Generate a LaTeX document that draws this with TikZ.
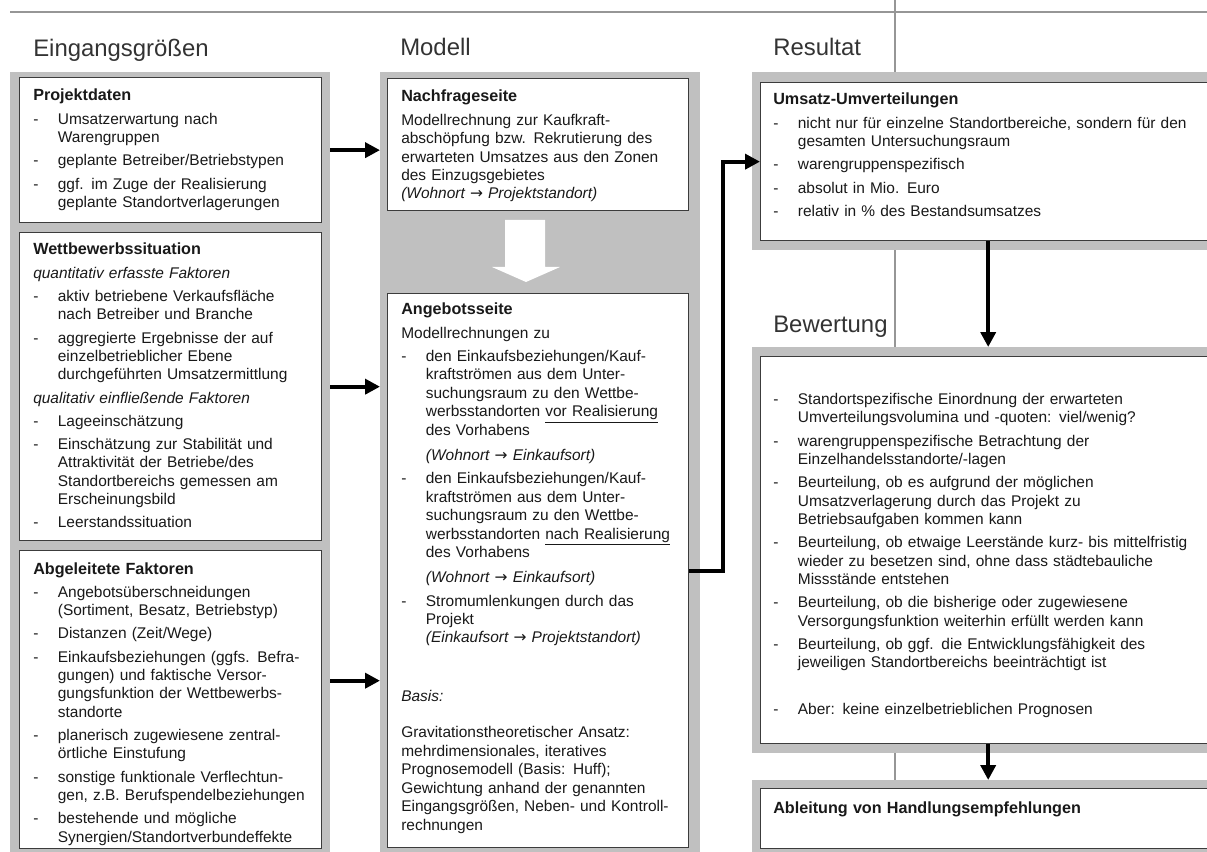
\documentclass[tikz,border=0pt]{standalone}
\usepackage{fontspec}
\setmainfont{Liberation Sans}
\newfontfamily\arrowfont{DejaVu Sans}
\usetikzlibrary{arrows.meta}

\definecolor{panelgray}{RGB}{192,192,192}
\definecolor{cardline}{RGB}{60,60,60}
\definecolor{rulegray}{RGB}{150,150,150}
\definecolor{ink}{RGB}{25,25,25}

% small helpers for the box texts
\newcommand{\cardfont}{\fontsize{11}{13.1}\selectfont\parindent=0pt\rightskip=0pt plus 1fil\relax}
\newcommand{\pf}{{\upshape\arrowfont →}}
\newcommand{\nz}{\hfil\break}
\newcommand{\kopf}[1]{\noindent{\fontsize{11.5}{13.1}\selectfont\bfseries #1}\par}
\newcommand{\pkt}{\par\vspace{3.4pt}\hangindent=17.5pt\hangafter=1\noindent\makebox[17.5pt][l]{-}}
\newcommand{\unter}[1]{\par\vspace{3.4pt}\noindent\textit{#1}}
\newcommand{\absatz}{\par\vspace{3.4pt}\noindent}

\tikzset{
  panel/.style={fill=panelgray, anchor=north west, inner sep=0pt, outer sep=0pt},
  card/.style={draw=cardline, fill=white, line width=0.9pt, anchor=north west, inner sep=0pt},
  cardtext/.style={anchor=north west, inner sep=0pt, text=ink, font=\cardfont},
  colhead/.style={anchor=base west, inner sep=0pt, text=black!80, font=\fontsize{17}{20}\selectfont},
  flow/.style={line width=3pt, -{Triangle[length=10.5pt,width=10.5pt]}},
}

\begin{document}
\begin{tikzpicture}[x=0.025cm, y=-0.025cm]
  \useasboundingbox (0,0) rectangle (1207,852);
  \clip (0,0) rectangle (1207,852);

  % frame lines
  \draw[rulegray, line width=1pt] (895,0) -- (895,852);
  \draw[rulegray, line width=1pt] (10,12) -- (1207,12);

  % column headings
  \node[colhead] (inhead) at (33,57) {Eingangsgrößen};
  \node[colhead] (modhead) at (400,56) {Modell};
  \node[colhead] (reshead) at (773,56) {Resultat};
  \node[fill=white, inner sep=1pt, colhead] (evalhead) at (773,332) {Bewertung};

  % gray panels
  \node[panel, minimum width=8cm, minimum height=19.7cm] (inpanel) at (10,72) {};
  \node[panel, minimum width=8cm, minimum height=19.7cm] (modpanel) at (380,72) {};
  \node[panel, minimum width=11.7cm, minimum height=4.45cm] (respanel) at (752,72) {};
  \node[panel, minimum width=11.7cm, minimum height=10.15cm] (evalpanel) at (752,347) {};
  \node[panel, minimum width=11.7cm, minimum height=2cm] (actpanel) at (752,780) {};

  % white cards
  \node[card, minimum width=7.55cm, minimum height=3.625cm] (proj) at (19,77) {};
  \node[card, minimum width=7.55cm, minimum height=7.7cm] (wett) at (19,232) {};
  \node[card, minimum width=7.55cm, minimum height=7.45cm] (abgl) at (19,550) {};
  \node[card, minimum width=7.525cm, minimum height=3.3cm] (nach) at (387,78) {};
  \node[card, minimum width=7.525cm, minimum height=13.85cm] (angeb) at (387,293) {};
  \node[card, minimum width=11.375cm, minimum height=3.95cm] (umsatz) at (760,82) {};
  \node[card, minimum width=11.375cm, minimum height=9.675cm] (bewert) at (760,356) {};
  \node[card, minimum width=11.375cm, minimum height=1.5cm] (ableit) at (760,788) {};

  % white block arrow inside the model panel
  \fill[white] (505,220) -- (545,220) -- (545,267) -- (560,267) -- (526,282)
    -- (492,267) -- (505,267) -- cycle;

  % texts
  \node[cardtext, text width=7.2cm] (projtxt) at (33,89) {%
    \kopf{Projektdaten}
    \pkt Umsatzerwartung nach\nz Warengruppen
    \pkt geplante Betreiber/Betriebstypen
    \pkt ggf. im Zuge der Realisierung\nz geplante Standortverlagerungen\par};
  \node[cardtext, text width=7.2cm] (wetttxt) at (33,243) {%
    \kopf{Wettbewerbssituation}
    \unter{quantitativ erfasste Faktoren}
    \pkt aktiv betriebene Verkaufsfläche\nz nach Betreiber und Branche
    \pkt aggregierte Ergebnisse der auf\nz einzelbetrieblicher Ebene\nz durchgeführten Umsatzermittlung
    \unter{qualitativ einfließende Faktoren}
    \pkt Lageeinschätzung
    \pkt Einschätzung zur Stabilität und\nz Attraktivität der Betriebe/des\nz Standortbereichs gemessen am\nz Erscheinungsbild
    \pkt Leerstandssituation\par};
  \node[cardtext, text width=7.2cm] (abgltxt) at (33,562) {%
    \kopf{Abgeleitete Faktoren}
    \pkt Angebotsüberschneidungen\nz (Sortiment, Besatz, Betriebstyp)
    \pkt Distanzen (Zeit/Wege)
    \pkt Einkaufsbeziehungen (ggfs. Befra-\nz gungen) und faktische Versor-\nz gungsfunktion der Wettbewerbs-\nz standorte
    \pkt planerisch zugewiesene zentral-\nz örtliche Einstufung
    \pkt sonstige funktionale Verflechtun-\nz gen, z.B. Berufspendelbeziehungen
    \pkt bestehende und mögliche\nz Synergien/Standortverbundeffekte\par};
  \node[cardtext, text width=7.2cm] (nachtxt) at (401,90) {%
    \kopf{Nachfrageseite}
    \absatz Modellrechnung zur Kaufkraft-\nz abschöpfung bzw. Rekrutierung des\nz erwarteten Umsatzes aus den Zonen\nz des Einzugsgebietes\nz
    \textit{(Wohnort \pf\ Projektstandort)}\par};
  \node[cardtext, text width=7.2cm] (angebtxt) at (401,303) {%
    \kopf{Angebotsseite}
    \absatz Modellrechnungen zu
    \pkt den Einkaufsbeziehungen/Kauf-\nz kraftströmen aus dem Unter-\nz suchungsraum zu den Wettbe-\nz werbsstandorten \underline{vor Realisierung}\nz des Vorhabens\vadjust{\vskip 5pt}\nz
    \textit{(Wohnort \pf\ Einkaufsort)}
    \pkt den Einkaufsbeziehungen/Kauf-\nz kraftströmen aus dem Unter-\nz suchungsraum zu den Wettbe-\nz werbsstandorten \underline{nach Realisierung}\nz des Vorhabens\vadjust{\vskip 5pt}\nz
    \textit{(Wohnort \pf\ Einkaufsort)}
    \pkt Stromumlenkungen durch das\nz Projekt\nz
    \textit{(Einkaufsort \pf\ Projektstandort)}
    \par\vspace{28.9pt}\noindent\textit{Basis:}
    \par\vspace{12.5pt}\noindent Gravitationstheoretischer Ansatz:\nz mehrdimensionales, iteratives\nz Prognosemodell (Basis: Huff);\nz Gewichtung anhand der genannten\nz Eingangsgrößen, Neben- und Kontroll-\nz rechnungen\par};
  \node[cardtext, text width=11cm] (umsatztxt) at (773,93) {%
    \kopf{Umsatz-Umverteilungen}
    \pkt nicht nur für einzelne Standortbereiche, sondern für den\nz gesamten Untersuchungsraum
    \pkt warengruppenspezifisch
    \pkt absolut in Mio. Euro
    \pkt relativ in \% des Bestandsumsatzes\par};
  \node[cardtext, text width=11cm] (bewerttxt) at (773,381) {%
    \pkt Standortspezifische Einordnung der erwarteten\nz Umverteilungsvolumina und -quoten: viel/wenig?
    \pkt warengruppenspezifische Betrachtung der\nz Einzelhandelsstandorte/-lagen
    \pkt Beurteilung, ob es aufgrund der möglichen\nz Umsatzverlagerung durch das Projekt zu\nz Betriebsaufgaben kommen kann
    \pkt Beurteilung, ob etwaige Leerstände kurz- bis mittelfristig\nz wieder zu besetzen sind, ohne dass städtebauliche\nz Missstände entstehen
    \pkt Beurteilung, ob die bisherige oder zugewiesene\nz Versorgungsfunktion weiterhin erfüllt werden kann
    \pkt Beurteilung, ob ggf. die Entwicklungsfähigkeit des\nz jeweiligen Standortbereichs beeinträchtigt ist
    \par\vspace{16.9pt}
    \pkt Aber: keine einzelbetrieblichen Prognosen\par};
  \node[cardtext, text width=11cm] (ableittxt) at (773,801) {%
    \kopf{Ableitung von Handlungsempfehlungen}};

  % connectors
  \coordinate (abglout) at ([yshift=13.5pt]abgl.east);
  \draw[flow] (proj.east -| inpanel.east) -- (proj.east -| modpanel.west);
  \draw[flow] (wett.east -| inpanel.east) -- (wett.east -| modpanel.west);
  \draw[flow] (abglout -| inpanel.east) -- (abglout -| modpanel.west);
  \draw[flow] (angeb.east) -- ++(34,0) |- (umsatz.west);
  \draw[flow] (umsatz.south) -- (umsatz.south |- evalpanel.north);
  \draw[flow] (bewert.south) -- (bewert.south |- actpanel.north);
\end{tikzpicture}
\end{document}
